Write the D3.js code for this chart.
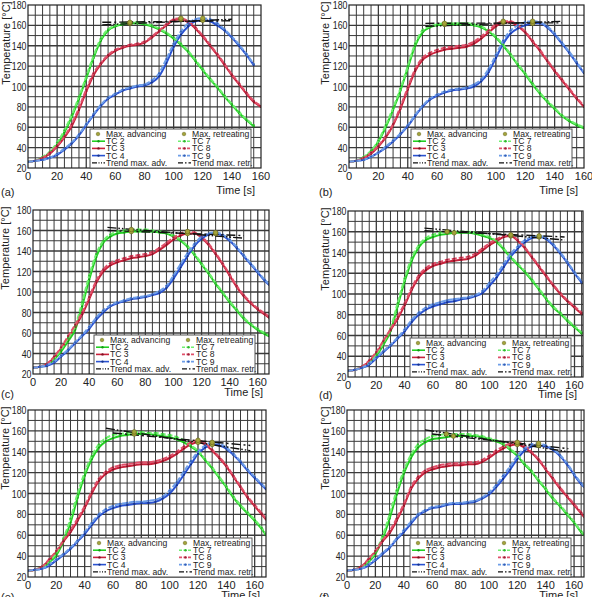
<!DOCTYPE html>
<html>
<head>
<meta charset="utf-8">
<script src="https://cdn.jsdelivr.net/npm/d3@7"></script>
<style>
  body { margin: 0; background: #fff; }
  svg { font-family: "Liberation Sans", Arial, sans-serif; }
</style>
</head>
<body>
<svg id="chart" width="592" height="597"></svg>
<script>
// Time bases [s]
const T_SHORT = [0,5,10,15,20,25,30,35,40,45,50,55,60,65,70,75,80,85,90,95,100,105,110,115,120,125,130,135,140,145,150,155,160];
const T_LONG  = [0,5,10,15,20,25,30,35,40,45,50,55,60,65,70,75,80,85,90,95,100,105,110,115,120,125,130,135,140,145,150,155,160,165,168];

const X_TICKS = [0,20,40,60,80,100,120,140,160];
const Y_TICKS = [20,40,60,80,100,120,140,160,180];

// (a)
const A_TC2 = [26,27,30,35,43,55,70,88,108,128,145,155,159,161,162,162,161,159,156,152,147,141,134,125,116,107,99,90,82,74,67,61];
const A_TC3 = [26,27,30,34,41,50,61,77,95,111,122,130,135,138,140,141,143,148,154,160,165,166,163,157,149,140,131,121,111,102,93,85,80];
const A_TC4 = [26,27,28,30,33,38,44,52,62,72,81,88,92,96,98,100,101,104,110,123,139,151,159,164,165,164,160,155,148,140,131,121];
const A_TC7 = [26,27,31,36,45,57,72,90,110,130,147,156,160,162,163,163,162,160,157,153,148,142,135,126,117,108,100,91,83,75,68,62];
const A_TC8 = [26,27,30,35,42,51,63,79,97,113,123,131,136,139,141,142,144,149,155,161,166,167,164,158,150,141,132,122,112,103,94,86,81];
const A_TC9 = [26,27,28,30,34,39,45,53,63,73,82,89,93,97,99,101,102,106,113,127,142,154,162,166,167,166,162,156,149,141,132,122];

// (b)
const B_TC2 = [26,27,30,36,46,60,77,96,118,140,153,158,160,161,161,161,161,160,158,154,148,140,131,121,112,102,93,85,78,71,66,62,59];
const B_TC3 = [26,27,30,34,41,50,62,78,97,115,126,131,134,136,137,138,139,142,147,153,159,163,163,159,153,144,135,125,115,106,97,88,80];
const B_TC4 = [26,27,28,31,35,40,46,53,61,71,80,87,91,94,96,97,98,100,105,114,128,142,152,157,160,162,162,158,151,142,133,123,113];
const B_TC7 = [26,27,31,37,47,62,79,98,120,142,155,159,161,162,162,162,162,161,159,155,149,141,132,122,113,103,94,86,79,72,67,63,60];
const B_TC8 = [26,27,30,35,42,51,63,80,99,117,128,133,136,138,139,140,141,144,149,155,161,164,164,160,154,145,136,126,116,107,98,89,81];
const B_TC9 = [26,27,28,31,35,41,47,54,62,72,81,88,92,95,97,98,99,102,107,117,131,145,155,160,163,164,163,159,152,143,134,124,114];

// (c)
const C_TC2 = [26,27,29,34,42,52,63,86,112,134,148,154,157,158,159,159,159,159,158,157,154,150,144,136,127,118,108,99,90,82,74,68,63,59,57];
const C_TC3 = [26,27,30,36,45,55,66,78,93,109,120,126,129,131,133,134,135,137,141,146,151,155,157,157,153,146,137,127,116,105,96,89,83,78,75];
const C_TC4 = [26,27,28,31,37,43,50,57,64,73,80,86,89,91,93,94,95,97,99,104,113,124,135,145,152,156,157,155,150,143,135,127,119,111,107];
const C_TC7 = [26,27,30,35,44,55,67,90,116,137,150,156,159,160,161,161,161,160,159,158,155,151,145,137,128,119,109,100,91,83,75,69,64,60,58];
const C_TC8 = [26,27,30,37,46,57,68,80,95,111,122,128,131,133,135,136,137,139,143,148,153,157,159,158,154,147,138,128,117,106,97,90,84,79,76];
const C_TC9 = [26,27,29,32,38,44,51,58,66,75,82,87,90,92,94,95,96,98,101,106,116,127,138,147,154,157,158,156,151,144,136,128,120,112,108];

// (d)
const D_TC2 = [26,27,29,33,40,51,64,88,112,132,145,152,155,157,158,159,159,159,158,156,154,150,143,135,128,121,113,104,95,87,81,74,68,62];
const D_TC3 = [26,27,30,35,43,54,65,76,89,104,116,123,127,129,131,132,133,134,137,142,147,151,155,156,151,144,135,126,117,108,100,93,87,81];
const D_TC4 = [26,27,29,32,38,44,50,57,64,73,80,85,88,90,92,93,95,96,98,101,108,116,126,136,144,150,154,155,153,147,139,130,120,111];
const D_TC7 = [26,27,30,34,42,53,67,91,115,135,147,154,157,159,160,160,160,160,159,157,155,151,144,136,129,122,114,105,96,88,82,75,69,63];
const D_TC8 = [26,27,30,36,44,55,66,78,91,106,118,125,129,131,133,134,135,136,139,144,149,153,156,157,152,145,136,127,118,109,101,94,88,82];
const D_TC9 = [26,27,29,33,39,45,51,58,66,75,82,87,90,92,94,95,96,97,99,103,111,119,129,139,146,152,155,156,154,148,140,131,121,112];

// (e)
const E_TC2 = [26,27,29,34,41,54,72,96,117,133,144,150,153,155,156,157,157,157,156,155,154,152,149,145,140,132,124,115,106,96,88,81,74,66,60];
const E_TC3 = [26,27,30,36,44,54,63,74,86,100,112,119,123,125,126,127,128,128,129,131,134,138,143,147,149,147,141,134,126,116,106,96,88,80,75];
const E_TC4 = [26,27,28,31,36,41,47,54,61,70,78,83,86,88,89,90,91,91,92,95,100,108,118,128,138,144,147,146,143,137,130,122,115,108,104];
const E_TC7 = [26,27,30,35,43,57,76,100,120,136,147,153,156,157,158,159,159,158,158,157,156,154,151,146,141,133,125,116,107,97,89,82,75,67,61];
const E_TC8 = [26,27,30,37,45,55,65,76,88,102,114,121,125,127,128,129,130,130,131,133,136,140,145,149,151,148,142,135,127,117,107,97,89,81,76];
const E_TC9 = [26,27,28,32,37,42,48,55,63,72,80,85,88,90,91,92,92,93,94,97,103,111,121,131,140,146,149,148,144,138,131,123,116,109,105];

// (f)
const F_TC2 = [26,27,29,34,42,56,76,99,119,134,144,149,152,153,154,155,155,155,155,154,152,150,147,142,136,128,121,112,104,95,88,80,72,63,59];
const F_TC3 = [26,27,30,36,44,54,62,74,88,104,114,120,123,125,126,127,127,128,128,130,134,139,143,146,147,144,139,132,123,114,105,97,89,81,76];
const F_TC4 = [26,27,28,31,36,42,48,56,63,71,79,83,86,87,89,90,90,91,92,95,99,106,114,123,133,141,145,146,145,142,136,128,118,109,105];
const F_TC7 = [26,27,30,35,44,59,80,103,122,137,147,152,155,156,157,157,157,157,156,155,153,151,148,143,137,129,122,113,105,96,89,81,73,64,60];
const F_TC8 = [26,27,30,37,45,55,64,76,90,106,116,122,125,127,128,129,129,130,130,132,136,141,145,148,149,146,140,133,124,115,106,98,90,82,77];
const F_TC9 = [26,27,28,32,37,43,49,57,65,73,80,84,87,88,90,91,91,92,93,96,101,108,117,126,136,143,147,148,146,143,137,129,119,110,106];

// Trend lines of the maxima: [time, temperature] end points
const TREND_ADV  = { a: [[51,160.5],[140,166]], b: [[52,159],[145,164]], c: [[53,163],[150,152.5]],
                     d: [[54,163.5],[153,152]], e: [[55,162.5],[157,141]], f: [[55,161],[156,140]] };
const TREND_RETR = { a: [[51,163],[140,164.5]], b: [[52,162],[145,162.5]], c: [[53,160],[150,155]],
                     d: [[54,161],[153,155]], e: [[60,158],[157,146]], f: [[60,157],[156,143]] };

const SERIES_NAMES = ["TC 2","TC 3","TC 4","TC 7","TC 8","TC 9"];

// Styles
const STYLE = [
  { color: "#22d022", mark: "#139a13", dash: null },
  { color: "#c8203a", mark: "#7e1020", dash: null },
  { color: "#2a52d0", mark: "#14308a", dash: null },
  { color: "#6ff06f", mark: "#2fb82f", dash: "5,2" },
  { color: "#e0506a", mark: "#a02038", dash: "5,2" },
  { color: "#6e9ee8", mark: "#3560b8", dash: "5,2" }
];
const MAX_FILL = "#a3a33a";
const MAX_STROKE = "#66661a";
const GRID = "#3a3a3a";

// row-wise offsets of the texts below each plot
const panels = [
  { id: "a", x0: 28,  x1: 261, y0: 5,   y1: 168, xMax: 160, time: T_SHORT, ylab: 10,  legX: 90,  lab: 1,   tOff: 26, lOff: 28,
    series: [A_TC2, A_TC3, A_TC4, A_TC7, A_TC8, A_TC9] },
  { id: "b", x0: 349, x1: 584, y0: 5,   y1: 168, xMax: 160, time: T_SHORT, ylab: 329, legX: 411, lab: 319, tOff: 26, lOff: 28,
    series: [B_TC2, B_TC3, B_TC4, B_TC7, B_TC8, B_TC9] },
  { id: "c", x0: 33,  x1: 269, y0: 210, y1: 374, xMax: 168, time: T_LONG, ylab: 9,   legX: 94,  lab: 1,   tOff: 22, lOff: 24,
    series: [C_TC2, C_TC3, C_TC4, C_TC7, C_TC8, C_TC9] },
  { id: "d", x0: 348, x1: 583, y0: 211, y1: 377, xMax: 166, time: T_LONG, ylab: 329, legX: 410, lab: 319, tOff: 21, lOff: 22,
    series: [D_TC2, D_TC3, D_TC4, D_TC7, D_TC8, D_TC9] },
  { id: "e", x0: 28,  x1: 266, y0: 410, y1: 577, xMax: 168, time: T_LONG, ylab: 9,   legX: 91,  lab: 1,   tOff: 22, lOff: 24,
    series: [E_TC2, E_TC3, E_TC4, E_TC7, E_TC8, E_TC9] },
  { id: "f", x0: 347, x1: 584, y0: 410, y1: 577, xMax: 167, time: T_LONG, ylab: 329, legX: 410, lab: 319, tOff: 22, lOff: 24,
    series: [F_TC2, F_TC3, F_TC4, F_TC7, F_TC8, F_TC9] }
];

const svg = d3.select("#chart");

panels.forEach(drawPanel);

function drawPanel(p) {
  const x = d3.scaleLinear().domain([0, p.xMax]).range([p.x0, p.x1]);
  const y = d3.scaleLinear().domain([20, 180]).range([p.y1, p.y0]);
  const g = svg.append("g").attr("class", "panel-" + p.id);

  // grid
  const grid = g.append("g");
  grid.selectAll(".vg").data(d3.range(5, p.xMax, 5)).join("line")
    .attr("x1", d => x(d)).attr("x2", d => x(d))
    .attr("y1", p.y0).attr("y2", p.y1)
    .attr("stroke", GRID).attr("stroke-width", d => d % 20 === 0 ? 1.3 : 1);
  grid.selectAll(".hg").data(d3.range(30, 180, 10)).join("line")
    .attr("x1", p.x0).attr("x2", p.x1)
    .attr("y1", d => y(d)).attr("y2", d => y(d))
    .attr("stroke", GRID).attr("stroke-width", d => d % 20 === 0 ? 1.3 : 1);

  // clip
  const clipId = "clip-" + p.id;
  g.append("clipPath").attr("id", clipId).append("rect")
    .attr("x", p.x0).attr("y", p.y0).attr("width", p.x1 - p.x0).attr("height", p.y1 - p.y0);
  const plot = g.append("g").attr("clip-path", `url(#${clipId})`);

  const line = d3.line()
    .x((d, i) => x(p.time[i]))
    .y(d => y(d))
    .curve(d3.curveMonotoneX);

  // curves
  p.series.forEach((vals, k) => {
    const st = STYLE[k];
    plot.append("path")
      .attr("d", line(vals))
      .attr("fill", "none")
      .attr("stroke", st.color)
      .attr("stroke-width", 2)
      .attr("stroke-dasharray", st.dash);
    plot.append("g").selectAll("circle").data(vals).join("circle")
      .attr("cx", (d, i) => x(p.time[i]))
      .attr("cy", d => y(d))
      .attr("r", 1.1)
      .attr("fill", st.mark);
  });

  // trend lines
  const tline = d3.line().x(d => x(d[0])).y(d => y(d[1]));
  plot.append("path").attr("d", tline(TREND_ADV[p.id]))
    .attr("fill", "none").attr("stroke", "#111").attr("stroke-width", 1.4)
    .attr("stroke-dasharray", "9,2,1.5,2,1.5,2");
  plot.append("path").attr("d", tline(TREND_RETR[p.id]))
    .attr("fill", "none").attr("stroke", "#111").attr("stroke-width", 1.4)
    .attr("stroke-dasharray", "9,3,2,3");

  // maxima of each curve
  p.series.forEach(vals => {
    const iMax = d3.maxIndex(vals);
    plot.append("circle")
      .attr("cx", x(p.time[iMax]))
      .attr("cy", y(vals[iMax]))
      .attr("r", 2.3)
      .attr("fill", MAX_FILL)
      .attr("stroke", MAX_STROKE)
      .attr("stroke-width", 0.6);
  });

  // frame
  g.append("rect")
    .attr("x", p.x0).attr("y", p.y0)
    .attr("width", p.x1 - p.x0).attr("height", p.y1 - p.y0)
    .attr("fill", "none").attr("stroke", "#222").attr("stroke-width", 1.2);

  // legend
  drawLegend(g, p.legX, p.y1 - 39);

  // tick labels
  g.append("g").selectAll("text").data(X_TICKS).join("text")
    .attr("x", d => x(d)).attr("y", p.y1 + 12)
    .attr("text-anchor", "middle")
    .attr("font-size", 11).attr("fill", "#222")
    .text(d => d);
  // y labels are a bit narrower in the source figure
  g.append("g").selectAll("text").data(Y_TICKS).join("text")
    .attr("transform", d => `translate(${p.x0 - 1.5},${y(d) + 4}) scale(0.8,1)`)
    .attr("text-anchor", "end")
    .attr("font-size", 11).attr("fill", "#222")
    .text(d => d);

  // axis titles
  g.append("text")
    .attr("transform", `translate(${p.ylab},${p.y0 + 38}) rotate(-90)`)
    .attr("text-anchor", "middle")
    .attr("font-size", 11).attr("fill", "#222")
    .text("Temperature [°C]");
  g.append("text")
    .attr("x", p.x1 - 6).attr("y", p.y1 + p.tOff)
    .attr("text-anchor", "end")
    .attr("font-size", 11).attr("fill", "#222")
    .text("Time [s]");
  g.append("text")
    .attr("x", p.lab).attr("y", p.y1 + p.lOff)
    .attr("font-size", 11).attr("fill", "#222")
    .text(`(${p.id})`);
}

function drawLegend(g, lx, ly) {
  const lg = g.append("g").attr("transform", `translate(${lx},${ly})`);
  lg.append("rect").attr("width", 161).attr("height", 39)
    .attr("fill", "#fff").attr("stroke", "#555").attr("stroke-width", 1);

  const rowY = [5, 12.2, 19.4, 26.6, 33.8];
  const cols = [2, 88];
  const fs = 8.6;

  // max markers
  ["Max. advancing", "Max. retreating"].forEach((name, c) => {
    lg.append("circle").attr("cx", cols[c] + 6).attr("cy", rowY[0])
      .attr("r", 1.8).attr("fill", MAX_FILL).attr("stroke", MAX_STROKE).attr("stroke-width", 0.5);
    lg.append("text").attr("x", cols[c] + 14).attr("y", rowY[0] + 3)
      .attr("font-size", fs).attr("fill", "#222").text(name);
  });

  // series
  SERIES_NAMES.forEach((name, k) => {
    const c = k < 3 ? 0 : 1;
    const r = rowY[1 + (k % 3)];
    const st = STYLE[k];
    lg.append("line")
      .attr("x1", cols[c]).attr("x2", cols[c] + 13)
      .attr("y1", r).attr("y2", r)
      .attr("stroke", st.color).attr("stroke-width", 1.6)
      .attr("stroke-dasharray", st.dash ? "3,1.5" : null);
    lg.append("circle").attr("cx", cols[c] + 6.5).attr("cy", r).attr("r", 1.2).attr("fill", st.mark);
    lg.append("text").attr("x", cols[c] + 14).attr("y", r + 3)
      .attr("font-size", fs).attr("fill", "#222").text(name);
  });

  // trends
  ["Trend max. adv.", "Trend max. retr."].forEach((name, c) => {
    lg.append("line")
      .attr("x1", cols[c]).attr("x2", cols[c] + 13)
      .attr("y1", rowY[4]).attr("y2", rowY[4])
      .attr("stroke", "#111").attr("stroke-width", 1.2)
      .attr("stroke-dasharray", c === 0 ? "5,1.5,1,1.5,1,1.5" : "5,2,1.5,2");
    lg.append("text").attr("x", cols[c] + 14).attr("y", rowY[4] + 3)
      .attr("font-size", fs).attr("fill", "#222").text(name);
  });
}
</script>
</body>
</html>
